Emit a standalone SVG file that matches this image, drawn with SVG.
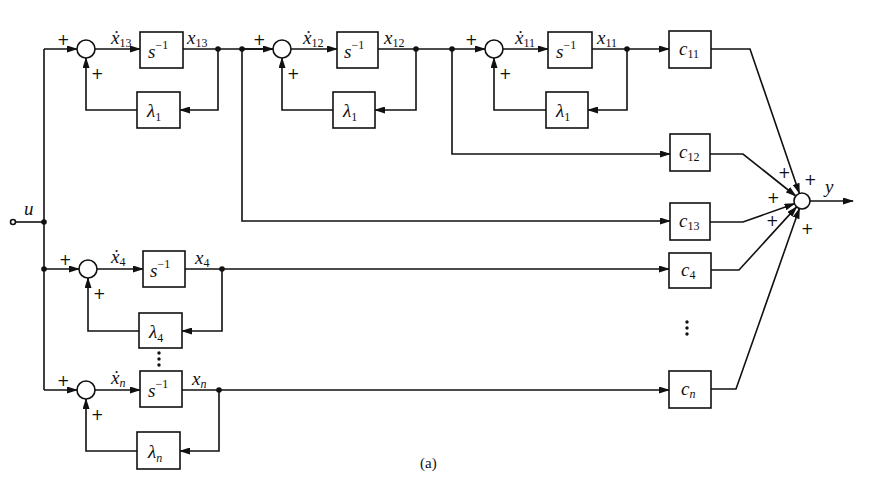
<svg xmlns="http://www.w3.org/2000/svg" width="870" height="482" viewBox="0 0 870 482">
<style>
.ln{fill:none;stroke:#111;stroke-width:1.6}
.bx{fill:#fff;stroke:#111;stroke-width:1.6}
.sm{fill:#fff;stroke:#111;stroke-width:1.6}
.dt{fill:#111}
.t{font-family:"Liberation Serif",serif;font-style:italic;font-size:19px;fill:#111}
.s{font-size:12px}
.p{font-family:"DejaVu Sans",sans-serif;font-size:15px;fill:#111}
.c{font-family:"Liberation Serif",serif;font-size:15px;fill:#111}
</style>
<defs>
<marker id="ar" markerWidth="11" markerHeight="7" refX="10" refY="3.5" orient="auto" markerUnits="userSpaceOnUse">
<path d="M0,0 L11,3.5 L0,7 Z" fill="#111"/>
</marker>
</defs>
<rect width="870" height="482" fill="#fff"/>
<g id="connectors">
<circle cx="13" cy="222" r="2.5" class="sm"/>
<path class="ln" d="M15.5,222 H44"/>
<path class="ln" d="M44,49 V390"/>
<path class="ln" d="M44,49 H77" marker-end="url(#ar)"/>
<path class="ln" d="M95,49 H140" marker-end="url(#ar)"/>
<path class="ln" d="M183,49 H282" />
<path class="ln" d="M242,49 H273" marker-end="url(#ar)"/>
<path class="ln" d="M218,49 V110 H180" marker-end="url(#ar)"/>
<path class="ln" d="M137,110 H86 V58" marker-end="url(#ar)"/>
<path class="ln" d="M291,49 H337" marker-end="url(#ar)"/>
<path class="ln" d="M378,49 H485" marker-end="url(#ar)"/>
<path class="ln" d="M416,49 V110 H375" marker-end="url(#ar)"/>
<path class="ln" d="M333,110 H282 V58" marker-end="url(#ar)"/>
<path class="ln" d="M503,49 H548" marker-end="url(#ar)"/>
<path class="ln" d="M592,49 H669" marker-end="url(#ar)"/>
<path class="ln" d="M627,49 V110 H588" marker-end="url(#ar)"/>
<path class="ln" d="M546,110 H494 V58" marker-end="url(#ar)"/>
<path class="ln" d="M452,49 V154 H670" marker-end="url(#ar)"/>
<path class="ln" d="M242,49 V221 H670" marker-end="url(#ar)"/>
<path class="ln" d="M44,269 H79" marker-end="url(#ar)"/>
<path class="ln" d="M97,269 H143" marker-end="url(#ar)"/>
<path class="ln" d="M185,269 H669" marker-end="url(#ar)"/>
<path class="ln" d="M222,269 V331 H182" marker-end="url(#ar)"/>
<path class="ln" d="M139,331 H88 V278" marker-end="url(#ar)"/>
<path class="ln" d="M44,390 H77" marker-end="url(#ar)"/>
<path class="ln" d="M95,390 H140" marker-end="url(#ar)"/>
<path class="ln" d="M182,390 H669" marker-end="url(#ar)"/>
<path class="ln" d="M219,390 V451 H180" marker-end="url(#ar)"/>
<path class="ln" d="M137,451 H86 V399" marker-end="url(#ar)"/>
<path class="ln" d="M711,49 H750 L799.4,193.4" marker-end="url(#ar)"/>
<path class="ln" d="M710,154 H743 L795.7,196" marker-end="url(#ar)"/>
<path class="ln" d="M710,222 H743 L794.5,203.7" marker-end="url(#ar)"/>
<path class="ln" d="M711,270 H739 L796.6,206.9" marker-end="url(#ar)"/>
<path class="ln" d="M711,389 H736 L799.4,208.6" marker-end="url(#ar)"/>
<path class="ln" d="M810,201 H853" marker-end="url(#ar)"/>
<circle cx="44" cy="222" r="2.8" class="dt"/>
<circle cx="44" cy="269" r="2.8" class="dt"/>
<circle cx="218" cy="49" r="2.8" class="dt"/>
<circle cx="242" cy="49" r="2.8" class="dt"/>
<circle cx="416" cy="49" r="2.8" class="dt"/>
<circle cx="452" cy="49" r="2.8" class="dt"/>
<circle cx="627" cy="49" r="2.8" class="dt"/>
<circle cx="222" cy="269" r="2.8" class="dt"/>
<circle cx="219" cy="390" r="2.8" class="dt"/>
</g>
<g id="sum13"><circle cx="86" cy="49" r="9" class="sm"/><text class="p" x="57" y="45">+</text><text class="p" x="91" y="79">+</text></g>
<g id="int13"><rect x="140" y="32" width="43" height="36" class="bx"/><text class="t" x="148" y="58">s<tspan class="s" dy="-9" font-style="normal">−1</tspan></text></g>
<g id="lam13"><rect x="137" y="92" width="43" height="36" class="bx"/><text class="t" x="147" y="117">λ<tspan class="s" dy="4" font-style="normal">1</tspan></text></g>
<g id="lab13"><text class="t" x="111" y="44">ẋ<tspan class="s" dy="3" font-style="normal">13</tspan></text><text class="t" x="187" y="44">x<tspan class="s" dy="3" font-style="normal">13</tspan></text></g>

<g id="sum12"><circle cx="282" cy="49" r="9" class="sm"/><text class="p" x="253" y="45">+</text><text class="p" x="287" y="79">+</text></g>
<g id="int12"><rect x="337" y="32" width="41" height="36" class="bx"/><text class="t" x="344" y="58">s<tspan class="s" dy="-9" font-style="normal">−1</tspan></text></g>
<g id="lam12"><rect x="333" y="92" width="42" height="36" class="bx"/><text class="t" x="343" y="117">λ<tspan class="s" dy="4" font-style="normal">1</tspan></text></g>
<g id="lab12"><text class="t" x="303" y="44">ẋ<tspan class="s" dy="3" font-style="normal">12</tspan></text><text class="t" x="384" y="44">x<tspan class="s" dy="3" font-style="normal">12</tspan></text></g>

<g id="sum11"><circle cx="494" cy="49" r="9" class="sm"/><text class="p" x="465" y="45">+</text><text class="p" x="499" y="79">+</text></g>
<g id="int11"><rect x="548" y="32" width="44" height="36" class="bx"/><text class="t" x="556" y="58">s<tspan class="s" dy="-9" font-style="normal">−1</tspan></text></g>
<g id="lam11"><rect x="546" y="92" width="42" height="36" class="bx"/><text class="t" x="556" y="117">λ<tspan class="s" dy="4" font-style="normal">1</tspan></text></g>
<g id="lab11"><text class="t" x="515" y="44">ẋ<tspan class="s" dy="3" font-style="normal">11</tspan></text><text class="t" x="597" y="44">x<tspan class="s" dy="3" font-style="normal">11</tspan></text></g>

<g id="sum4"><circle cx="88" cy="269" r="9" class="sm"/><text class="p" x="59" y="265">+</text><text class="p" x="93" y="299">+</text></g>
<g id="int4"><rect x="143" y="251" width="42" height="36" class="bx"/><text class="t" x="150" y="277">s<tspan class="s" dy="-9" font-style="normal">−1</tspan></text></g>
<g id="lam4"><rect x="139" y="313" width="43" height="35" class="bx"/><text class="t" x="149" y="338">λ<tspan class="s" dy="4" font-style="normal">4</tspan></text></g>
<g id="lab4"><text class="t" x="111" y="263">ẋ<tspan class="s" dy="3" font-style="normal">4</tspan></text><text class="t" x="195" y="264">x<tspan class="s" dy="3" font-style="normal">4</tspan></text></g>

<g id="sumn"><circle cx="86" cy="390" r="9" class="sm"/><text class="p" x="57" y="386">+</text><text class="p" x="91" y="420">+</text></g>
<g id="intn"><rect x="140" y="371" width="42" height="36" class="bx"/><text class="t" x="148" y="397">s<tspan class="s" dy="-9" font-style="normal">−1</tspan></text></g>
<g id="lamn"><rect x="137" y="432" width="43" height="37" class="bx"/><text class="t" x="148" y="458">λ<tspan class="s" dy="4">n</tspan></text></g>
<g id="labn"><text class="t" x="111" y="384">ẋ<tspan class="s" dy="3">n</tspan></text><text class="t" x="192" y="385">x<tspan class="s" dy="3">n</tspan></text></g>
<g id="dots1"><circle cx="159" cy="353" r="1.7" class="dt"/><circle cx="159" cy="359" r="1.7" class="dt"/><circle cx="159" cy="365" r="1.7" class="dt"/></g>

<g id="c11"><rect x="669" y="31" width="42" height="37" class="bx"/><text class="t" x="679" y="55">c<tspan class="s" dy="3" font-style="normal">11</tspan></text></g>
<g id="c12"><rect x="670" y="134" width="40" height="37" class="bx"/><text class="t" x="679" y="158">c<tspan class="s" dy="3" font-style="normal">12</tspan></text></g>
<g id="c13"><rect x="670" y="203" width="40" height="37" class="bx"/><text class="t" x="679" y="227">c<tspan class="s" dy="3" font-style="normal">13</tspan></text></g>
<g id="c4"><rect x="669" y="253" width="42" height="35" class="bx"/><text class="t" x="681" y="276">c<tspan class="s" dy="3" font-style="normal">4</tspan></text></g>
<g id="cn"><rect x="669" y="371" width="42" height="37" class="bx"/><text class="t" x="681" y="395">c<tspan class="s" dy="3">n</tspan></text></g>
<g id="dots2"><circle cx="687" cy="322" r="1.7" class="dt"/><circle cx="687" cy="328" r="1.7" class="dt"/><circle cx="687" cy="334" r="1.7" class="dt"/></g>

<g id="sumy"><circle cx="802" cy="201" r="8" class="sm"/>
<text class="p" x="778" y="178">+</text><text class="p" x="804" y="185">+</text><text class="p" x="767" y="203">+</text><text class="p" x="766" y="226">+</text><text class="p" x="801" y="234">+</text>
<text class="t" x="825" y="193">y</text></g>
<g id="input"><text class="t" x="24" y="215">u</text></g>
<text class="c" x="420" y="468">(a)</text>
</svg>
